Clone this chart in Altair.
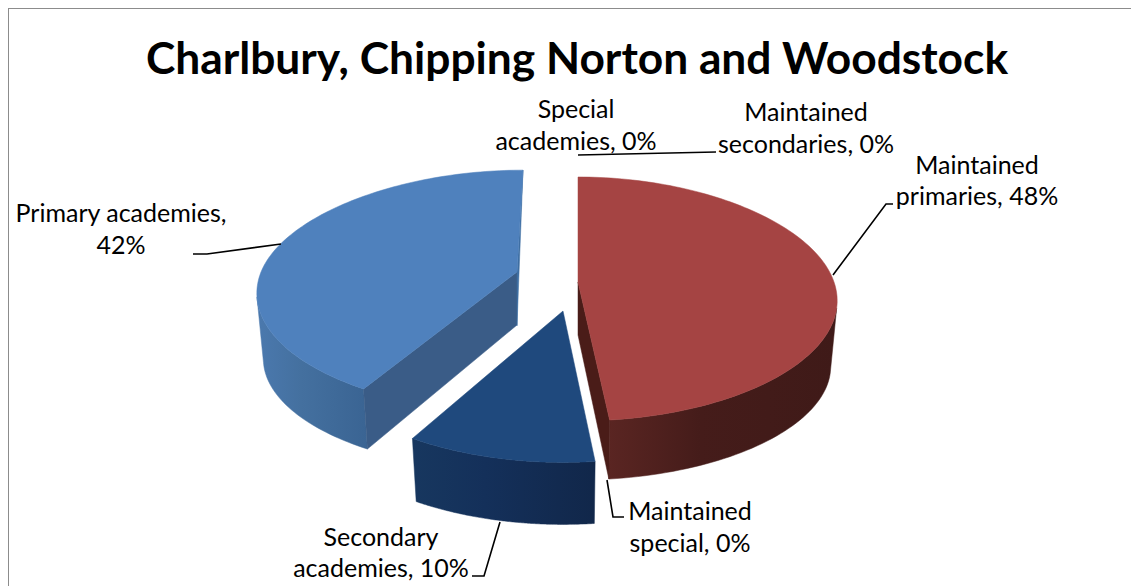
import altair as alt
import numpy as np
import pandas as pd

title = "Charlbury, Chipping Norton and Woodstock"
categories = ["Maintained primaries", "Secondary academies", "Primary academies"]
shares = [48.3, 10.2, 41.5]
top_colors = ["#A54443", "#1F497D", "#4F81BD"]
inner_wall_colors = ["#4A1C18", None, "#3A5C87"]
wall_stops = [["#5A2522", "#451C1A", "#3F1A18"], ["#17375F", "#14305A", "#11274A"], ["#4B79AE", "#44709F", "#3A6493"]]

# label lines: text, centre x, centre y
label_text = ["Special", "academies, 0%", "Maintained", "secondaries, 0%", "Maintained", "primaries, 48%",
              "Primary academies,", "42%", "Secondary", "academies, 10%", "Maintained", "special, 0%"]
label_x = [576, 576, 806, 806, 977, 977, 121, 121, 381, 381, 690, 690]
label_y = [110, 142, 113, 145, 166, 197, 214, 246, 538, 569, 512, 544]

leader_id = [0, 0, 1, 1, 1, 2, 2, 2, 3, 3, 3, 4, 4, 4]
leader_x = [578, 716, 833, 886, 893, 281, 207, 193, 500, 484, 472, 607, 613, 624]
leader_y = [155, 152, 275, 204, 204, 244, 254, 254, 522, 576, 576, 480, 517, 517]

# slice placement in the 3-D view: apex x, apex y, radius, shear, y scale, back scale, extra depth
apex_x = [578, 563, 517]
apex_y = [282, 311, 272]
radius = [256, 260, 256]
shear = [0, 0, -6]
y_scale = [1.0, 1.09, 1.0]
back_scale = [1.0, 1.0, 0.97]
extra_depth = [0, 3, 0]

W, H = 1123, 578
xs = alt.Scale(domain=[8, 8 + W], nice=False, zero=False)
ys = alt.Scale(domain=[8 + H, 8], nice=False, zero=False)
X = alt.X("x:Q", scale=xs, axis=None)
Y = alt.Y("y:Q", scale=ys, axis=None)


def project(i, theta):
    sx, sy = np.sin(theta), -np.cos(theta)
    px = apex_x[i] + radius[i] * sx * (1 + 0.16 * sy) + shear[i] * sy
    py = apex_y[i] + y_scale[i] * 119.6 * sy / (1 - 0.139 * sy) * np.where(sy < 0, back_scale[i], 1.0)
    return px, py


def lower(i, px, py, sy):
    return apex_x[i] + (px - apex_x[i]) * 0.975, py + 59 + extra_depth[i] + 8 * (1 - np.abs(sy))


def poly(xv, yv, fill):
    df = pd.DataFrame({"x": xv, "y": yv, "i": range(len(xv))})
    return alt.Chart(df).mark_line(fill=fill, stroke=fill, strokeWidth=0.5, interpolate="linear-closed").encode(
        x=X, y=Y, order="i:Q")


layers = []
edges = np.radians(np.cumsum([0] + shares) * 3.6)
for i in [2, 0, 1]:
    t = np.linspace(edges[i], edges[i + 1], 120)
    px, py = project(i, t)
    sy = -np.cos(t)
    front = sy > 0.2
    bx, by = lower(i, px, py, sy)
    stops = wall_stops[i]
    grad = alt.LinearGradient(gradient="linear", x1=0, x2=1, y1=0, y2=0, stops=[
        alt.GradientStop(color=stops[0], offset=0),
        alt.GradientStop(color=stops[1], offset=0.4),
        alt.GradientStop(color=stops[2], offset=1)])
    layers.append(poly(list(px[front]) + list(bx[front][::-1]), list(py[front]) + list(by[front][::-1]), grad))
    if inner_wall_colors[i]:
        ax, ay = apex_x[i], apex_y[i]
        c = 0 if i == 2 else -1
        layers.append(poly([ax, px[c], bx[c], ax], [ay, py[c], by[c], ay + 53], inner_wall_colors[i]))
    if i == 2:
        layers.append(poly([px[-1], apex_x[i], apex_x[i]], [py[-1], apex_y[i], apex_y[i] + 54], "#3F6FA3"))
    layers.append(poly([apex_x[i]] + list(px), [apex_y[i]] + list(py), top_colors[i]))

border = alt.Chart(pd.DataFrame({"x": [1131, 8, 8], "y": [8, 8, 586], "i": [0, 1, 2]})).mark_line(
    color="#8C8C8C", strokeWidth=2).encode(x=X, y=Y, order="i:Q")

leaders = alt.Chart(pd.DataFrame({"x": leader_x, "y": leader_y, "g": leader_id, "i": range(len(leader_x))})).mark_line(
    color="#000000", strokeWidth=1.6).encode(x=X, y=Y, detail="g:N", order="i:Q")

labels = alt.Chart(pd.DataFrame({"x": label_x, "y": label_y, "t": label_text})).mark_text(
    font="Lato", fontSize=25, align="center", baseline="middle", color="#000000").encode(x=X, y=Y, text="t:N")

head = alt.Chart(pd.DataFrame({"x": [577], "y": [61], "t": [title]})).mark_text(
    font="Lato", fontSize=44.3, fontWeight="bold", align="center", baseline="middle", color="#000000").encode(x=X, y=Y, text="t:N")

chart = alt.layer(border, *layers, leaders, labels, head).properties(
    width=W, height=H, padding=0, autosize=alt.AutoSizeParams(type="none"), background="#FFFFFF"
).configure_view(stroke=None)

chart.save("out.html", embed_options={"renderer": "svg", "actions": False})
